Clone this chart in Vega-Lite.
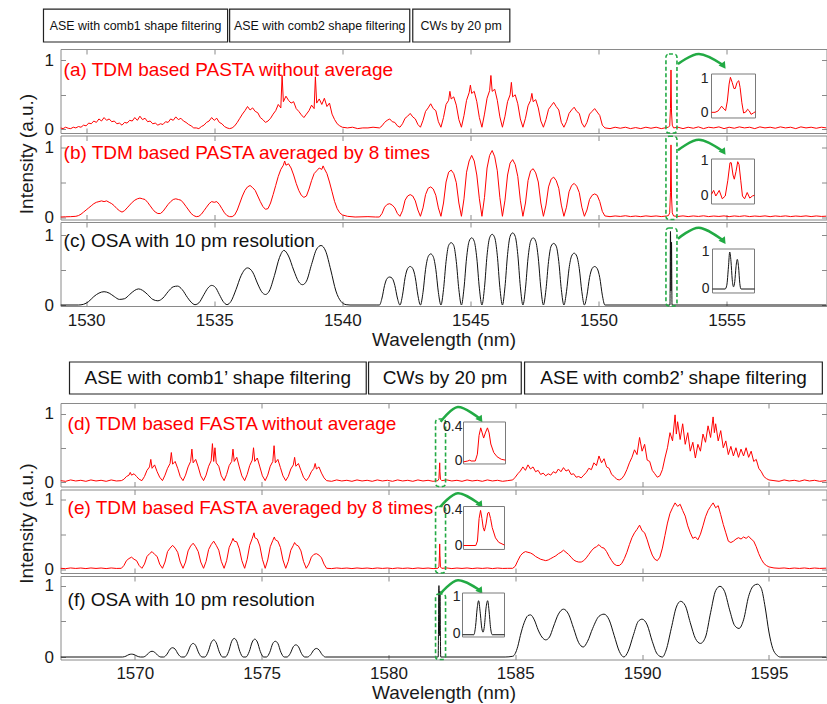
{
"$schema": "https://vega.github.io/schema/vega-lite/v6.json",
"background": "white",
"padding": {"left": 16.5, "top": 7, "right": 0, "bottom": 0},
"spacing": 10,
"config": {
  "font": "Liberation Sans",
  "view": {"stroke": "#8a8a8a", "strokeWidth": 1},
  "axis": {"domain": false, "grid": false, "tickColor": "#8a8a8a", "tickSize": -5, "labelFontSize": 17, "labelColor": "#1a1a1a", "titleFontSize": 19, "titleFontWeight": "normal", "titleColor": "#1a1a1a", "labelFont": "Liberation Sans", "titleFont": "Liberation Sans"},
  "axisX": {"labelPadding": 11, "titlePadding": 2},
  "axisY": {"labelPadding": 12, "titlePadding": 8}
},
"datasets": {
"a": [
{"x":1529,"y":0.02},{"x":1529.1,"y":0.01},{"x":1529.2,"y":0.03},{"x":1529.3,"y":0.015},{"x":1529.4,"y":0.01},{"x":1529.5,"y":0.03},{"x":1529.6,"y":0.02},{"x":1529.7,"y":0.04},{"x":1529.8,"y":0.03},{"x":1529.9,"y":0.06},
{"x":1530,"y":0.05},{"x":1530.1,"y":0.09},{"x":1530.2,"y":0.08},{"x":1530.3,"y":0.12},{"x":1530.4,"y":0.1},{"x":1530.5,"y":0.15},{"x":1530.6,"y":0.12},{"x":1530.7,"y":0.17},{"x":1530.8,"y":0.13},{"x":1530.9,"y":0.15},
{"x":1531,"y":0.11},{"x":1531.1,"y":0.12},{"x":1531.2,"y":0.08},{"x":1531.3,"y":0.09},{"x":1531.4,"y":0.06},{"x":1531.5,"y":0.1},{"x":1531.6,"y":0.09},{"x":1531.7,"y":0.13},{"x":1531.8,"y":0.12},{"x":1531.9,"y":0.17},
{"x":1532,"y":0.13},{"x":1532.1,"y":0.19},{"x":1532.2,"y":0.14},{"x":1532.3,"y":0.16},{"x":1532.4,"y":0.11},{"x":1532.5,"y":0.12},{"x":1532.6,"y":0.08},{"x":1532.7,"y":0.09},{"x":1532.8,"y":0.06},{"x":1532.9,"y":0.08},
{"x":1533,"y":0.07},{"x":1533.1,"y":0.11},{"x":1533.2,"y":0.1},{"x":1533.3,"y":0.15},{"x":1533.4,"y":0.13},{"x":1533.5,"y":0.18},{"x":1533.6,"y":0.14},{"x":1533.7,"y":0.16},{"x":1533.8,"y":0.12},{"x":1533.9,"y":0.1},
{"x":1534,"y":0.07},{"x":1534.1,"y":0.05},{"x":1534.2,"y":0.02},{"x":1534.3,"y":0.02},{"x":1534.4,"y":0.01},{"x":1534.5,"y":0.04},{"x":1534.6,"y":0.06},{"x":1534.7,"y":0.1},{"x":1534.8,"y":0.12},{"x":1534.9,"y":0.17},
{"x":1535,"y":0.13},{"x":1535.1,"y":0.16},{"x":1535.2,"y":0.1},{"x":1535.3,"y":0.08},{"x":1535.4,"y":0.04},{"x":1535.5,"y":0.02},{"x":1535.6,"y":0.01},{"x":1535.7,"y":0.02},{"x":1535.8,"y":0.05},{"x":1535.9,"y":0.1},
{"x":1536,"y":0.16},{"x":1536.1,"y":0.22},{"x":1536.2,"y":0.27},{"x":1536.3,"y":0.33},{"x":1536.4,"y":0.28},{"x":1536.5,"y":0.31},{"x":1536.6,"y":0.26},{"x":1536.7,"y":0.24},{"x":1536.8,"y":0.17},{"x":1536.9,"y":0.14},
{"x":1537,"y":0.1},{"x":1537.1,"y":0.12},{"x":1537.2,"y":0.16},{"x":1537.3,"y":0.22},{"x":1537.4,"y":0.27},{"x":1537.5,"y":0.36},{"x":1537.6,"y":0.31},{"x":1537.65,"y":0.78},{"x":1537.7,"y":0.4},{"x":1537.8,"y":0.48},{"x":1537.9,"y":0.42},
{"x":1538,"y":0.38},{"x":1538.1,"y":0.4},{"x":1538.2,"y":0.3},{"x":1538.3,"y":0.26},{"x":1538.4,"y":0.21},{"x":1538.5,"y":0.17},{"x":1538.6,"y":0.22},{"x":1538.7,"y":0.27},{"x":1538.8,"y":0.35},{"x":1538.9,"y":0.3},{"x":1538.95,"y":0.76},
{"x":1539,"y":0.38},{"x":1539.1,"y":0.44},{"x":1539.2,"y":0.36},{"x":1539.3,"y":0.45},{"x":1539.4,"y":0.33},{"x":1539.5,"y":0.38},{"x":1539.6,"y":0.22},{"x":1539.7,"y":0.14},{"x":1539.8,"y":0.08},{"x":1539.9,"y":0.05},
{"x":1540,"y":0.03},{"x":1540.2,"y":0.02},{"x":1540.4,"y":0.03},{"x":1540.6,"y":0.01},{"x":1540.8,"y":0.02},{"x":1541,"y":0.02},{"x":1541.2,"y":0.03},
{"x":1541.45,"y":0.02},{"x":1541.55,"y":0.05},{"x":1541.65,"y":0.1},{"x":1541.75,"y":0.13},{"x":1541.85,"y":0.15},{"x":1541.95,"y":0.11},{"x":1542.05,"y":0.1},{"x":1542.15,"y":0.05},
{"x":1542.25,"y":0.03},{"x":1542.35,"y":0.08},{"x":1542.45,"y":0.16},{"x":1542.55,"y":0.19},{"x":1542.65,"y":0.23},{"x":1542.75,"y":0.18},{"x":1542.85,"y":0.15},{"x":1542.95,"y":0.07},
{"x":1543.05,"y":0.03},{"x":1543.15,"y":0.13},{"x":1543.25,"y":0.26},{"x":1543.35,"y":0.31},{"x":1543.45,"y":0.37},{"x":1543.55,"y":0.3},{"x":1543.65,"y":0.27},{"x":1543.75,"y":0.11},
{"x":1543.85,"y":0.03},{"x":1543.95,"y":0.17},{"x":1544.05,"y":0.36},{"x":1544.15,"y":0.42},{"x":1544.2,"y":0.55},{"x":1544.25,"y":0.44},{"x":1544.35,"y":0.47},{"x":1544.45,"y":0.35},{"x":1544.55,"y":0.14},
{"x":1544.65,"y":0.03},{"x":1544.75,"y":0.2},{"x":1544.85,"y":0.42},{"x":1544.95,"y":0.53},{"x":1545,"y":0.64},{"x":1545.05,"y":0.52},{"x":1545.15,"y":0.55},{"x":1545.25,"y":0.4},{"x":1545.35,"y":0.17},
{"x":1545.45,"y":0.03},{"x":1545.55,"y":0.22},{"x":1545.65,"y":0.45},{"x":1545.75,"y":0.56},{"x":1545.8,"y":0.78},{"x":1545.85,"y":0.55},{"x":1545.95,"y":0.58},{"x":1546.05,"y":0.42},{"x":1546.15,"y":0.18},
{"x":1546.25,"y":0.03},{"x":1546.35,"y":0.19},{"x":1546.45,"y":0.4},{"x":1546.55,"y":0.5},{"x":1546.6,"y":0.68},{"x":1546.65,"y":0.47},{"x":1546.75,"y":0.5},{"x":1546.85,"y":0.37},{"x":1546.95,"y":0.15},
{"x":1547.05,"y":0.03},{"x":1547.15,"y":0.16},{"x":1547.25,"y":0.34},{"x":1547.35,"y":0.42},{"x":1547.4,"y":0.52},{"x":1547.45,"y":0.4},{"x":1547.55,"y":0.43},{"x":1547.65,"y":0.31},{"x":1547.75,"y":0.12},
{"x":1547.85,"y":0.03},{"x":1547.95,"y":0.14},{"x":1548.05,"y":0.29},{"x":1548.15,"y":0.34},{"x":1548.25,"y":0.39},{"x":1548.35,"y":0.33},{"x":1548.45,"y":0.28},{"x":1548.55,"y":0.1},
{"x":1548.65,"y":0.03},{"x":1548.75,"y":0.11},{"x":1548.85,"y":0.23},{"x":1548.95,"y":0.28},{"x":1549.05,"y":0.32},{"x":1549.15,"y":0.26},{"x":1549.25,"y":0.23},{"x":1549.35,"y":0.09},
{"x":1549.45,"y":0.03},{"x":1549.55,"y":0.1},{"x":1549.65,"y":0.22},{"x":1549.75,"y":0.26},{"x":1549.85,"y":0.3},{"x":1549.95,"y":0.25},{"x":1550.05,"y":0.2},{"x":1550.15,"y":0.06},
{"x":1550.25,"y":0.02},{"x":1550.45,"y":0.01},{"x":1550.65,"y":0.03},{"x":1550.85,"y":0.015},{"x":1551.05,"y":0.03},{"x":1551.25,"y":0.01},{"x":1551.45,"y":0.025},{"x":1551.65,"y":0.01},{"x":1551.85,"y":0.03},{"x":1552.05,"y":0.015},{"x":1552.25,"y":0.03},{"x":1552.45,"y":0.01},{"x":1552.65,"y":0.025},
{"x":1552.73,"y":0.03},{"x":1552.78,"y":0.05},{"x":1552.81,"y":0.3},{"x":1552.83,"y":0.86},{"x":1552.85,"y":0.25},{"x":1552.88,"y":0.06},{"x":1552.93,"y":0.02},
{"x":1553.1,"y":0.03},{"x":1553.3,"y":0.01},{"x":1553.5,"y":0.03},{"x":1553.7,"y":0.015},{"x":1553.9,"y":0.035},{"x":1554.1,"y":0.01},{"x":1554.3,"y":0.03},{"x":1554.5,"y":0.02},{"x":1554.7,"y":0.035},{"x":1554.9,"y":0.01},{"x":1555.1,"y":0.03},{"x":1555.3,"y":0.015},{"x":1555.5,"y":0.035},{"x":1555.7,"y":0.02},{"x":1555.9,"y":0.03},{"x":1556.1,"y":0.01},{"x":1556.3,"y":0.035},{"x":1556.5,"y":0.02},{"x":1556.7,"y":0.03},{"x":1556.9,"y":0.015},{"x":1557.1,"y":0.035},{"x":1557.3,"y":0.02},{"x":1557.5,"y":0.03},{"x":1557.7,"y":0.01},{"x":1557.9,"y":0.035},{"x":1558.1,"y":0.02},{"x":1558.3,"y":0.03},{"x":1558.5,"y":0.015},{"x":1558.7,"y":0.03},{"x":1558.9,"y":0.02}
],
"b": [
{"x":1529,"y":0},{"x":1529.2,"y":0.003},{"x":1529.4,"y":0.005},{"x":1529.6,"y":0.01},{"x":1529.7,"y":0.02},{"x":1529.8,"y":0.04},{"x":1529.9,"y":0.07},
{"x":1530,"y":0.1},{"x":1530.1,"y":0.13},{"x":1530.2,"y":0.16},{"x":1530.3,"y":0.19},{"x":1530.4,"y":0.21},{"x":1530.5,"y":0.22},{"x":1530.6,"y":0.23},{"x":1530.7,"y":0.22},{"x":1530.8,"y":0.23},{"x":1530.9,"y":0.21},
{"x":1531,"y":0.19},{"x":1531.1,"y":0.16},{"x":1531.2,"y":0.12},{"x":1531.3,"y":0.09},{"x":1531.4,"y":0.07},{"x":1531.5,"y":0.09},{"x":1531.6,"y":0.13},{"x":1531.7,"y":0.17},{"x":1531.8,"y":0.21},{"x":1531.9,"y":0.24},
{"x":1532,"y":0.26},{"x":1532.1,"y":0.27},{"x":1532.2,"y":0.26},{"x":1532.3,"y":0.25},{"x":1532.4,"y":0.21},{"x":1532.5,"y":0.16},{"x":1532.6,"y":0.11},{"x":1532.7,"y":0.07},{"x":1532.8,"y":0.05},{"x":1532.9,"y":0.05},
{"x":1533,"y":0.08},{"x":1533.1,"y":0.13},{"x":1533.2,"y":0.18},{"x":1533.3,"y":0.22},{"x":1533.4,"y":0.25},{"x":1533.5,"y":0.26},{"x":1533.6,"y":0.25},{"x":1533.7,"y":0.24},{"x":1533.8,"y":0.2},{"x":1533.9,"y":0.15},
{"x":1534,"y":0.1},{"x":1534.1,"y":0.05},{"x":1534.2,"y":0.02},{"x":1534.3,"y":0.005},{"x":1534.4,"y":0.01},{"x":1534.5,"y":0.04},{"x":1534.6,"y":0.09},{"x":1534.7,"y":0.14},{"x":1534.8,"y":0.19},{"x":1534.9,"y":0.22},
{"x":1535,"y":0.21},{"x":1535.1,"y":0.22},{"x":1535.2,"y":0.18},{"x":1535.3,"y":0.12},{"x":1535.4,"y":0.06},{"x":1535.5,"y":0.02},{"x":1535.6,"y":0.005},{"x":1535.7,"y":0.005},{"x":1535.8,"y":0.03},{"x":1535.9,"y":0.1},
{"x":1536,"y":0.2},{"x":1536.1,"y":0.3},{"x":1536.2,"y":0.38},{"x":1536.3,"y":0.43},{"x":1536.4,"y":0.45},{"x":1536.5,"y":0.42},{"x":1536.6,"y":0.38},{"x":1536.7,"y":0.3},{"x":1536.8,"y":0.22},{"x":1536.9,"y":0.15},
{"x":1537,"y":0.11},{"x":1537.1,"y":0.12},{"x":1537.2,"y":0.2},{"x":1537.3,"y":0.32},{"x":1537.4,"y":0.45},{"x":1537.5,"y":0.58},{"x":1537.6,"y":0.68},{"x":1537.7,"y":0.74},{"x":1537.75,"y":0.8},{"x":1537.8,"y":0.74},{"x":1537.9,"y":0.76},
{"x":1538,"y":0.7},{"x":1538.1,"y":0.6},{"x":1538.2,"y":0.48},{"x":1538.3,"y":0.38},{"x":1538.4,"y":0.31},{"x":1538.5,"y":0.28},{"x":1538.6,"y":0.3},{"x":1538.7,"y":0.4},{"x":1538.8,"y":0.52},{"x":1538.9,"y":0.62},
{"x":1539,"y":0.66},{"x":1539.1,"y":0.7},{"x":1539.2,"y":0.68},{"x":1539.25,"y":0.73},{"x":1539.3,"y":0.69},{"x":1539.4,"y":0.62},{"x":1539.5,"y":0.5},{"x":1539.6,"y":0.36},{"x":1539.7,"y":0.22},{"x":1539.8,"y":0.12},{"x":1539.9,"y":0.06},
{"x":1540,"y":0.03},{"x":1540.2,"y":0.01},{"x":1540.5,"y":0},{"x":1541,"y":0.005},{"x":1541.3,"y":0},
{"x":1541.45,"y":0},{"x":1541.55,"y":0.05},{"x":1541.65,"y":0.14},{"x":1541.75,"y":0.18},{"x":1541.85,"y":0.19},{"x":1541.95,"y":0.17},{"x":1542.05,"y":0.13},{"x":1542.15,"y":0.05},
{"x":1542.25,"y":0.01},{"x":1542.35,"y":0.09},{"x":1542.45,"y":0.24},{"x":1542.55,"y":0.3},{"x":1542.65,"y":0.32},{"x":1542.75,"y":0.3},{"x":1542.85,"y":0.23},{"x":1542.95,"y":0.1},
{"x":1543.05,"y":0.01},{"x":1543.15,"y":0.13},{"x":1543.25,"y":0.32},{"x":1543.35,"y":0.41},{"x":1543.45,"y":0.43},{"x":1543.55,"y":0.4},{"x":1543.65,"y":0.31},{"x":1543.75,"y":0.13},
{"x":1543.85,"y":0.01},{"x":1543.95,"y":0.2},{"x":1544.05,"y":0.5},{"x":1544.15,"y":0.64},{"x":1544.25,"y":0.67},{"x":1544.35,"y":0.62},{"x":1544.45,"y":0.49},{"x":1544.55,"y":0.2},
{"x":1544.65,"y":0.01},{"x":1544.75,"y":0.26},{"x":1544.85,"y":0.64},{"x":1544.95,"y":0.8},{"x":1545.05,"y":0.88},{"x":1545.15,"y":0.8},{"x":1545.25,"y":0.6},{"x":1545.35,"y":0.26},
{"x":1545.45,"y":0.01},{"x":1545.55,"y":0.28},{"x":1545.65,"y":0.7},{"x":1545.75,"y":0.88},{"x":1545.85,"y":0.95},{"x":1545.95,"y":0.86},{"x":1546.05,"y":0.66},{"x":1546.15,"y":0.28},
{"x":1546.25,"y":0.01},{"x":1546.35,"y":0.24},{"x":1546.45,"y":0.6},{"x":1546.55,"y":0.77},{"x":1546.65,"y":0.82},{"x":1546.75,"y":0.75},{"x":1546.85,"y":0.58},{"x":1546.95,"y":0.24},
{"x":1547.05,"y":0.01},{"x":1547.15,"y":0.2},{"x":1547.25,"y":0.52},{"x":1547.35,"y":0.66},{"x":1547.45,"y":0.69},{"x":1547.55,"y":0.63},{"x":1547.65,"y":0.5},{"x":1547.75,"y":0.2},
{"x":1547.85,"y":0.01},{"x":1547.95,"y":0.17},{"x":1548.05,"y":0.43},{"x":1548.15,"y":0.54},{"x":1548.25,"y":0.57},{"x":1548.35,"y":0.52},{"x":1548.45,"y":0.41},{"x":1548.55,"y":0.17},
{"x":1548.65,"y":0.01},{"x":1548.75,"y":0.14},{"x":1548.85,"y":0.36},{"x":1548.95,"y":0.45},{"x":1549.05,"y":0.48},{"x":1549.15,"y":0.44},{"x":1549.25,"y":0.35},{"x":1549.35,"y":0.14},
{"x":1549.45,"y":0.01},{"x":1549.55,"y":0.1},{"x":1549.65,"y":0.25},{"x":1549.75,"y":0.31},{"x":1549.85,"y":0.33},{"x":1549.95,"y":0.31},{"x":1550.05,"y":0.22},{"x":1550.15,"y":0.08},
{"x":1550.25,"y":0.015},{"x":1550.45,"y":0.005},{"x":1550.65,"y":0.015},{"x":1550.85,"y":0.008},{"x":1551.05,"y":0.018},{"x":1551.25,"y":0.006},{"x":1551.45,"y":0.014},{"x":1551.65,"y":0.005},{"x":1551.85,"y":0.016},{"x":1552.05,"y":0.008},{"x":1552.25,"y":0.015},{"x":1552.45,"y":0.006},{"x":1552.65,"y":0.014},
{"x":1552.73,"y":0.02},{"x":1552.78,"y":0.06},{"x":1552.81,"y":0.35},{"x":1552.83,"y":1.03},{"x":1552.85,"y":0.3},{"x":1552.88,"y":0.06},{"x":1552.93,"y":0.015},
{"x":1553.1,"y":0.008},{"x":1553.3,"y":0.016},{"x":1553.5,"y":0.006},{"x":1553.7,"y":0.015},{"x":1553.9,"y":0.008},{"x":1554.1,"y":0.017},{"x":1554.3,"y":0.006},{"x":1554.5,"y":0.014},{"x":1554.7,"y":0.008},{"x":1554.9,"y":0.016},{"x":1555.1,"y":0.005},{"x":1555.3,"y":0.015},{"x":1555.5,"y":0.008},{"x":1555.7,"y":0.017},{"x":1555.9,"y":0.006},{"x":1556.1,"y":0.014},{"x":1556.3,"y":0.008},{"x":1556.5,"y":0.016},{"x":1556.7,"y":0.005},{"x":1556.9,"y":0.015},{"x":1557.1,"y":0.008},{"x":1557.3,"y":0.016},{"x":1557.5,"y":0.006},{"x":1557.7,"y":0.014},{"x":1557.9,"y":0.008},{"x":1558.1,"y":0.016},{"x":1558.3,"y":0.006},{"x":1558.5,"y":0.015},{"x":1558.7,"y":0.008},{"x":1558.9,"y":0.012}
],
"c": [
{"x":1529,"y":0},{"x":1529.7,"y":0},{"x":1529.9,"y":0.01},{"x":1530.1,"y":0.05},{"x":1530.3,"y":0.12},{"x":1530.5,"y":0.17},{"x":1530.7,"y":0.19},{"x":1530.9,"y":0.17},{"x":1531.1,"y":0.12},{"x":1531.3,"y":0.08},{"x":1531.5,"y":0.09},{"x":1531.7,"y":0.15},{"x":1531.9,"y":0.21},{"x":1532.05,"y":0.23},{"x":1532.2,"y":0.21},{"x":1532.4,"y":0.15},{"x":1532.6,"y":0.08},{"x":1532.8,"y":0.06},{"x":1533,"y":0.1},{"x":1533.2,"y":0.19},{"x":1533.4,"y":0.26},{"x":1533.57,"y":0.27},{"x":1533.75,"y":0.22},{"x":1533.95,"y":0.11},{"x":1534.1,"y":0.04},{"x":1534.25,"y":0.005},{"x":1534.4,"y":0.03},{"x":1534.6,"y":0.15},{"x":1534.75,"y":0.24},{"x":1534.9,"y":0.28},{"x":1535.05,"y":0.25},{"x":1535.2,"y":0.15},{"x":1535.35,"y":0.05},{"x":1535.5,"y":0.005},{"x":1535.65,"y":0.05},{"x":1535.85,"y":0.22},{"x":1536.05,"y":0.42},{"x":1536.3,"y":0.53},{"x":1536.5,"y":0.47},{"x":1536.7,"y":0.3},{"x":1536.85,"y":0.19},{"x":1537,"y":0.15},{"x":1537.15,"y":0.2},{"x":1537.35,"y":0.42},{"x":1537.55,"y":0.68},{"x":1537.72,"y":0.78},{"x":1537.9,"y":0.7},{"x":1538.1,"y":0.5},{"x":1538.3,"y":0.33},{"x":1538.45,"y":0.29},{"x":1538.6,"y":0.34},{"x":1538.8,"y":0.58},{"x":1539,"y":0.8},{"x":1539.17,"y":0.85},{"x":1539.35,"y":0.77},{"x":1539.55,"y":0.5},{"x":1539.75,"y":0.2},{"x":1539.95,"y":0.05},{"x":1540.15,"y":0.005},{"x":1540.3,"y":0},{"x":1541.35,"y":0},
{"x":1541.45,"y":0},{"x":1541.55,"y":0.1},{"x":1541.65,"y":0.28},{"x":1541.75,"y":0.38},{"x":1541.85,"y":0.4},{"x":1541.95,"y":0.38},{"x":1542.05,"y":0.28},{"x":1542.15,"y":0.1},
{"x":1542.25,"y":0},{"x":1542.35,"y":0.14},{"x":1542.45,"y":0.39},{"x":1542.55,"y":0.52},{"x":1542.65,"y":0.55},{"x":1542.75,"y":0.52},{"x":1542.85,"y":0.39},{"x":1542.95,"y":0.14},
{"x":1543.05,"y":0},{"x":1543.15,"y":0.18},{"x":1543.25,"y":0.51},{"x":1543.35,"y":0.69},{"x":1543.45,"y":0.73},{"x":1543.55,"y":0.69},{"x":1543.65,"y":0.51},{"x":1543.75,"y":0.18},
{"x":1543.85,"y":0},{"x":1543.95,"y":0.22},{"x":1544.05,"y":0.62},{"x":1544.15,"y":0.85},{"x":1544.25,"y":0.89},{"x":1544.35,"y":0.85},{"x":1544.45,"y":0.62},{"x":1544.55,"y":0.22},
{"x":1544.65,"y":0},{"x":1544.75,"y":0.24},{"x":1544.85,"y":0.67},{"x":1544.95,"y":0.91},{"x":1545.05,"y":0.96},{"x":1545.15,"y":0.91},{"x":1545.25,"y":0.67},{"x":1545.35,"y":0.24},
{"x":1545.45,"y":0},{"x":1545.55,"y":0.25},{"x":1545.65,"y":0.71},{"x":1545.75,"y":0.96},{"x":1545.85,"y":1.01},{"x":1545.95,"y":0.96},{"x":1546.05,"y":0.71},{"x":1546.15,"y":0.25},
{"x":1546.25,"y":0},{"x":1546.35,"y":0.26},{"x":1546.45,"y":0.72},{"x":1546.55,"y":0.98},{"x":1546.65,"y":1.03},{"x":1546.75,"y":0.98},{"x":1546.85,"y":0.72},{"x":1546.95,"y":0.26},
{"x":1547.05,"y":0},{"x":1547.15,"y":0.24},{"x":1547.25,"y":0.67},{"x":1547.35,"y":0.91},{"x":1547.45,"y":0.96},{"x":1547.55,"y":0.91},{"x":1547.65,"y":0.67},{"x":1547.75,"y":0.24},
{"x":1547.85,"y":0},{"x":1547.95,"y":0.22},{"x":1548.05,"y":0.62},{"x":1548.15,"y":0.84},{"x":1548.25,"y":0.88},{"x":1548.35,"y":0.84},{"x":1548.45,"y":0.62},{"x":1548.55,"y":0.22},
{"x":1548.65,"y":0},{"x":1548.75,"y":0.19},{"x":1548.85,"y":0.52},{"x":1548.95,"y":0.7},{"x":1549.05,"y":0.74},{"x":1549.15,"y":0.7},{"x":1549.25,"y":0.52},{"x":1549.35,"y":0.19},
{"x":1549.45,"y":0},{"x":1549.55,"y":0.14},{"x":1549.65,"y":0.39},{"x":1549.75,"y":0.52},{"x":1549.85,"y":0.55},{"x":1549.95,"y":0.52},{"x":1550.05,"y":0.39},{"x":1550.15,"y":0.14},
{"x":1550.25,"y":0},{"x":1552.79,"y":0},{"x":1552.81,"y":1.05},{"x":1552.83,"y":0.2},{"x":1552.85,"y":0.9},{"x":1552.87,"y":0},{"x":1558.9,"y":0}
],
"d": [
{"x":1567.07,"y":0.02},{"x":1567.27,"y":0.01},{"x":1567.47,"y":0.03},{"x":1567.67,"y":0.015},{"x":1567.87,"y":0.025},{"x":1568.07,"y":0.01},{"x":1568.27,"y":0.03},{"x":1568.47,"y":0.015},{"x":1568.67,"y":0.025},{"x":1568.87,"y":0.01},{"x":1569.07,"y":0.03},{"x":1569.27,"y":0.015},
{"x":1569.47,"y":0.02},{"x":1569.57,"y":0.04},{"x":1569.67,"y":0.08},{"x":1569.77,"y":0.1},{"x":1569.82,"y":0.14},{"x":1569.87,"y":0.1},{"x":1569.97,"y":0.12},{"x":1570.07,"y":0.08},{"x":1570.17,"y":0.04},
{"x":1570.28,"y":0.02},{"x":1570.38,"y":0.08},{"x":1570.48,"y":0.17},{"x":1570.58,"y":0.22},{"x":1570.63,"y":0.33},{"x":1570.68,"y":0.2},{"x":1570.78,"y":0.25},{"x":1570.88,"y":0.15},{"x":1570.98,"y":0.07},
{"x":1571.09,"y":0.02},{"x":1571.19,"y":0.1},{"x":1571.29,"y":0.2},{"x":1571.39,"y":0.27},{"x":1571.44,"y":0.43},{"x":1571.49,"y":0.26},{"x":1571.59,"y":0.3},{"x":1571.69,"y":0.2},{"x":1571.79,"y":0.08},
{"x":1571.9,"y":0.02},{"x":1572,"y":0.1},{"x":1572.1,"y":0.22},{"x":1572.2,"y":0.3},{"x":1572.25,"y":0.48},{"x":1572.3,"y":0.28},{"x":1572.4,"y":0.33},{"x":1572.5,"y":0.22},{"x":1572.6,"y":0.09},
{"x":1572.71,"y":0.02},{"x":1572.81,"y":0.1},{"x":1572.91,"y":0.23},{"x":1573.01,"y":0.31},{"x":1573.06,"y":0.56},{"x":1573.11,"y":0.3},{"x":1573.16,"y":0.5},{"x":1573.21,"y":0.28},{"x":1573.31,"y":0.23},{"x":1573.41,"y":0.09},
{"x":1573.52,"y":0.02},{"x":1573.62,"y":0.11},{"x":1573.72,"y":0.24},{"x":1573.82,"y":0.3},{"x":1573.87,"y":0.48},{"x":1573.92,"y":0.3},{"x":1574.02,"y":0.36},{"x":1574.12,"y":0.22},{"x":1574.22,"y":0.09},
{"x":1574.33,"y":0.02},{"x":1574.43,"y":0.11},{"x":1574.53,"y":0.24},{"x":1574.63,"y":0.32},{"x":1574.68,"y":0.5},{"x":1574.73,"y":0.3},{"x":1574.83,"y":0.35},{"x":1574.93,"y":0.22},{"x":1575.03,"y":0.09},
{"x":1575.14,"y":0.02},{"x":1575.24,"y":0.1},{"x":1575.34,"y":0.23},{"x":1575.44,"y":0.3},{"x":1575.49,"y":0.53},{"x":1575.54,"y":0.28},{"x":1575.64,"y":0.33},{"x":1575.74,"y":0.21},{"x":1575.84,"y":0.09},
{"x":1575.95,"y":0.02},{"x":1576.05,"y":0.08},{"x":1576.15,"y":0.19},{"x":1576.25,"y":0.25},{"x":1576.3,"y":0.36},{"x":1576.35,"y":0.23},{"x":1576.45,"y":0.27},{"x":1576.55,"y":0.17},{"x":1576.65,"y":0.07},
{"x":1576.76,"y":0.02},{"x":1576.86,"y":0.07},{"x":1576.96,"y":0.15},{"x":1577.06,"y":0.2},{"x":1577.11,"y":0.27},{"x":1577.16,"y":0.19},{"x":1577.26,"y":0.22},{"x":1577.36,"y":0.13},{"x":1577.46,"y":0.06},
{"x":1577.56,"y":0.02},{"x":1577.76,"y":0.01},{"x":1577.96,"y":0.03},{"x":1578.16,"y":0.015},{"x":1578.36,"y":0.025},{"x":1578.56,"y":0.01},{"x":1578.76,"y":0.03},{"x":1578.96,"y":0.015},{"x":1579.16,"y":0.025},{"x":1579.36,"y":0.01},{"x":1579.56,"y":0.03},{"x":1579.76,"y":0.015},{"x":1579.96,"y":0.025},{"x":1580.16,"y":0.01},{"x":1580.36,"y":0.03},{"x":1580.56,"y":0.015},{"x":1580.76,"y":0.025},{"x":1580.96,"y":0.01},{"x":1581.16,"y":0.03},{"x":1581.36,"y":0.015},{"x":1581.56,"y":0.025},{"x":1581.76,"y":0.01},
{"x":1581.95,"y":0.02},{"x":1581.99,"y":0.05},{"x":1582.01,"y":0.2},{"x":1582.02,"y":0.28},{"x":1582.03,"y":0.15},{"x":1582.05,"y":0.04},{"x":1582.1,"y":0.02},
{"x":1582.3,"y":0.03},{"x":1582.5,"y":0.015},{"x":1582.7,"y":0.025},{"x":1582.9,"y":0.01},{"x":1583.1,"y":0.03},{"x":1583.3,"y":0.015},{"x":1583.5,"y":0.025},{"x":1583.7,"y":0.01},{"x":1583.9,"y":0.03},{"x":1584.1,"y":0.015},{"x":1584.3,"y":0.025},{"x":1584.5,"y":0.01},{"x":1584.7,"y":0.02},
{"x":1584.9,"y":0.03},{"x":1585,"y":0.07},{"x":1585.1,"y":0.12},{"x":1585.2,"y":0.16},{"x":1585.3,"y":0.22},{"x":1585.4,"y":0.17},{"x":1585.5,"y":0.25},{"x":1585.6,"y":0.19},{"x":1585.7,"y":0.22},{"x":1585.8,"y":0.15},{"x":1585.9,"y":0.17},
{"x":1586,"y":0.11},{"x":1586.1,"y":0.13},{"x":1586.2,"y":0.09},{"x":1586.3,"y":0.12},{"x":1586.4,"y":0.1},{"x":1586.5,"y":0.15},{"x":1586.6,"y":0.13},{"x":1586.7,"y":0.19},{"x":1586.8,"y":0.15},{"x":1586.9,"y":0.21},
{"x":1587,"y":0.16},{"x":1587.1,"y":0.18},{"x":1587.2,"y":0.11},{"x":1587.3,"y":0.12},{"x":1587.4,"y":0.07},{"x":1587.5,"y":0.08},{"x":1587.6,"y":0.06},{"x":1587.7,"y":0.1},{"x":1587.8,"y":0.14},{"x":1587.9,"y":0.2},
{"x":1588,"y":0.18},{"x":1588.1,"y":0.28},{"x":1588.2,"y":0.24},{"x":1588.3,"y":0.38},{"x":1588.4,"y":0.28},{"x":1588.5,"y":0.34},{"x":1588.6,"y":0.22},{"x":1588.7,"y":0.2},{"x":1588.8,"y":0.11},{"x":1588.9,"y":0.08},
{"x":1589,"y":0.04},{"x":1589.1,"y":0.03},{"x":1589.2,"y":0.05},{"x":1589.3,"y":0.1},{"x":1589.4,"y":0.18},{"x":1589.5,"y":0.28},{"x":1589.6,"y":0.36},{"x":1589.7,"y":0.47},{"x":1589.8,"y":0.4},{"x":1589.9,"y":0.65},
{"x":1590,"y":0.45},{"x":1590.1,"y":0.55},{"x":1590.2,"y":0.32},{"x":1590.3,"y":0.3},{"x":1590.4,"y":0.17},{"x":1590.5,"y":0.12},{"x":1590.6,"y":0.07},{"x":1590.7,"y":0.09},{"x":1590.8,"y":0.18},{"x":1590.9,"y":0.35},
{"x":1591,"y":0.5},{"x":1591.1,"y":0.72},{"x":1591.2,"y":0.6},{"x":1591.3,"y":0.98},{"x":1591.35,"y":0.7},{"x":1591.4,"y":0.88},{"x":1591.5,"y":0.62},{"x":1591.6,"y":0.85},{"x":1591.7,"y":0.55},{"x":1591.8,"y":0.72},{"x":1591.9,"y":0.45},
{"x":1592,"y":0.58},{"x":1592.1,"y":0.35},{"x":1592.2,"y":0.55},{"x":1592.3,"y":0.45},{"x":1592.4,"y":0.7},{"x":1592.5,"y":0.58},{"x":1592.6,"y":0.82},{"x":1592.7,"y":0.65},{"x":1592.8,"y":0.95},{"x":1592.85,"y":0.72},{"x":1592.9,"y":0.85},
{"x":1593,"y":0.6},{"x":1593.1,"y":0.75},{"x":1593.2,"y":0.5},{"x":1593.3,"y":0.6},{"x":1593.4,"y":0.4},{"x":1593.5,"y":0.52},{"x":1593.6,"y":0.38},{"x":1593.7,"y":0.5},{"x":1593.8,"y":0.36},{"x":1593.9,"y":0.48},
{"x":1594,"y":0.38},{"x":1594.1,"y":0.5},{"x":1594.2,"y":0.36},{"x":1594.3,"y":0.45},{"x":1594.4,"y":0.3},{"x":1594.5,"y":0.33},{"x":1594.6,"y":0.2},{"x":1594.7,"y":0.15},{"x":1594.8,"y":0.08},{"x":1594.9,"y":0.05},
{"x":1595,"y":0.03},{"x":1595.2,"y":0.02},{"x":1595.4,"y":0.01},{"x":1595.6,"y":0.03},{"x":1595.8,"y":0.015},{"x":1596,"y":0.025},{"x":1596.2,"y":0.01},{"x":1596.4,"y":0.03},{"x":1596.6,"y":0.015},{"x":1596.8,"y":0.025},{"x":1597,"y":0.01},{"x":1597.27,"y":0.02}
],
"e": [
{"x":1567.07,"y":0.01},{"x":1567.27,"y":0.005},{"x":1567.47,"y":0.015},{"x":1567.67,"y":0.008},{"x":1567.87,"y":0.014},{"x":1568.07,"y":0.006},{"x":1568.27,"y":0.015},{"x":1568.47,"y":0.008},{"x":1568.67,"y":0.014},{"x":1568.87,"y":0.006},{"x":1569.07,"y":0.015},{"x":1569.27,"y":0.008},
{"x":1569.47,"y":0.01},{"x":1569.57,"y":0.05},{"x":1569.67,"y":0.12},{"x":1569.77,"y":0.15},{"x":1569.87,"y":0.17},{"x":1569.97,"y":0.14},{"x":1570.07,"y":0.12},{"x":1570.17,"y":0.05},
{"x":1570.28,"y":0.01},{"x":1570.38,"y":0.07},{"x":1570.48,"y":0.18},{"x":1570.58,"y":0.22},{"x":1570.68,"y":0.25},{"x":1570.78,"y":0.21},{"x":1570.88,"y":0.18},{"x":1570.98,"y":0.07},
{"x":1571.09,"y":0.01},{"x":1571.19,"y":0.1},{"x":1571.29,"y":0.25},{"x":1571.39,"y":0.3},{"x":1571.49,"y":0.34},{"x":1571.59,"y":0.3},{"x":1571.69,"y":0.24},{"x":1571.79,"y":0.1},
{"x":1571.9,"y":0.01},{"x":1572,"y":0.1},{"x":1572.1,"y":0.26},{"x":1572.2,"y":0.33},{"x":1572.3,"y":0.37},{"x":1572.4,"y":0.32},{"x":1572.5,"y":0.25},{"x":1572.6,"y":0.1},
{"x":1572.71,"y":0.01},{"x":1572.81,"y":0.11},{"x":1572.91,"y":0.28},{"x":1573.01,"y":0.35},{"x":1573.11,"y":0.4},{"x":1573.21,"y":0.34},{"x":1573.31,"y":0.27},{"x":1573.41,"y":0.11},
{"x":1573.52,"y":0.01},{"x":1573.62,"y":0.12},{"x":1573.72,"y":0.31},{"x":1573.82,"y":0.39},{"x":1573.87,"y":0.44},{"x":1573.92,"y":0.4},{"x":1574.02,"y":0.39},{"x":1574.12,"y":0.29},{"x":1574.22,"y":0.12},
{"x":1574.33,"y":0.01},{"x":1574.43,"y":0.14},{"x":1574.53,"y":0.34},{"x":1574.63,"y":0.44},{"x":1574.7,"y":0.52},{"x":1574.73,"y":0.45},{"x":1574.83,"y":0.43},{"x":1574.93,"y":0.33},{"x":1575.03,"y":0.14},
{"x":1575.14,"y":0.01},{"x":1575.24,"y":0.13},{"x":1575.34,"y":0.32},{"x":1575.44,"y":0.41},{"x":1575.5,"y":0.46},{"x":1575.54,"y":0.42},{"x":1575.64,"y":0.4},{"x":1575.74,"y":0.31},{"x":1575.84,"y":0.13},
{"x":1575.95,"y":0.01},{"x":1576.05,"y":0.11},{"x":1576.15,"y":0.27},{"x":1576.25,"y":0.34},{"x":1576.3,"y":0.38},{"x":1576.35,"y":0.35},{"x":1576.45,"y":0.33},{"x":1576.55,"y":0.26},{"x":1576.65,"y":0.11},
{"x":1576.76,"y":0.01},{"x":1576.86,"y":0.07},{"x":1576.96,"y":0.17},{"x":1577.06,"y":0.21},{"x":1577.16,"y":0.22},{"x":1577.26,"y":0.2},{"x":1577.36,"y":0.16},{"x":1577.46,"y":0.07},
{"x":1577.56,"y":0.01},{"x":1577.76,"y":0.006},{"x":1577.96,"y":0.015},{"x":1578.16,"y":0.008},{"x":1578.36,"y":0.014},{"x":1578.56,"y":0.006},{"x":1578.76,"y":0.015},{"x":1578.96,"y":0.008},{"x":1579.16,"y":0.014},{"x":1579.36,"y":0.006},{"x":1579.56,"y":0.015},{"x":1579.76,"y":0.008},{"x":1579.96,"y":0.014},{"x":1580.16,"y":0.006},{"x":1580.36,"y":0.015},{"x":1580.56,"y":0.008},{"x":1580.76,"y":0.014},{"x":1580.96,"y":0.006},{"x":1581.16,"y":0.015},{"x":1581.36,"y":0.008},{"x":1581.56,"y":0.014},{"x":1581.76,"y":0.006},
{"x":1581.95,"y":0.01},{"x":1581.99,"y":0.03},{"x":1582.01,"y":0.2},{"x":1582.02,"y":0.36},{"x":1582.03,"y":0.2},{"x":1582.05,"y":0.03},{"x":1582.1,"y":0.01},
{"x":1582.3,"y":0.015},{"x":1582.5,"y":0.006},{"x":1582.7,"y":0.014},{"x":1582.9,"y":0.008},{"x":1583.1,"y":0.015},{"x":1583.3,"y":0.006},{"x":1583.5,"y":0.014},{"x":1583.7,"y":0.008},{"x":1583.9,"y":0.015},{"x":1584.1,"y":0.006},{"x":1584.3,"y":0.014},{"x":1584.5,"y":0.008},{"x":1584.7,"y":0.01},
{"x":1584.9,"y":0.01},{"x":1585,"y":0.04},{"x":1585.1,"y":0.12},{"x":1585.2,"y":0.19},{"x":1585.3,"y":0.23},{"x":1585.4,"y":0.25},{"x":1585.5,"y":0.24},{"x":1585.6,"y":0.23},{"x":1585.7,"y":0.21},{"x":1585.8,"y":0.18},{"x":1585.9,"y":0.16},
{"x":1586,"y":0.14},{"x":1586.1,"y":0.13},{"x":1586.2,"y":0.12},{"x":1586.3,"y":0.13},{"x":1586.4,"y":0.15},{"x":1586.5,"y":0.17},{"x":1586.6,"y":0.19},{"x":1586.7,"y":0.22},{"x":1586.8,"y":0.24},{"x":1586.9,"y":0.27},
{"x":1587,"y":0.24},{"x":1587.1,"y":0.21},{"x":1587.2,"y":0.17},{"x":1587.3,"y":0.13},{"x":1587.4,"y":0.11},{"x":1587.5,"y":0.1},{"x":1587.6,"y":0.1},{"x":1587.7,"y":0.12},{"x":1587.8,"y":0.16},{"x":1587.9,"y":0.21},
{"x":1588,"y":0.26},{"x":1588.1,"y":0.3},{"x":1588.2,"y":0.32},{"x":1588.3,"y":0.35},{"x":1588.4,"y":0.31},{"x":1588.5,"y":0.3},{"x":1588.6,"y":0.25},{"x":1588.7,"y":0.18},{"x":1588.8,"y":0.12},{"x":1588.9,"y":0.07},
{"x":1589,"y":0.05},{"x":1589.1,"y":0.05},{"x":1589.2,"y":0.08},{"x":1589.3,"y":0.15},{"x":1589.4,"y":0.24},{"x":1589.5,"y":0.35},{"x":1589.6,"y":0.45},{"x":1589.7,"y":0.52},{"x":1589.8,"y":0.57},{"x":1589.9,"y":0.63},
{"x":1590,"y":0.55},{"x":1590.1,"y":0.52},{"x":1590.2,"y":0.42},{"x":1590.3,"y":0.3},{"x":1590.4,"y":0.2},{"x":1590.5,"y":0.14},{"x":1590.6,"y":0.12},{"x":1590.7,"y":0.17},{"x":1590.8,"y":0.3},{"x":1590.9,"y":0.48},
{"x":1591,"y":0.66},{"x":1591.1,"y":0.8},{"x":1591.2,"y":0.88},{"x":1591.3,"y":0.95},{"x":1591.4,"y":0.9},{"x":1591.5,"y":0.93},{"x":1591.6,"y":0.84},{"x":1591.7,"y":0.76},{"x":1591.8,"y":0.62},{"x":1591.9,"y":0.52},
{"x":1592,"y":0.44},{"x":1592.1,"y":0.46},{"x":1592.2,"y":0.42},{"x":1592.3,"y":0.5},{"x":1592.4,"y":0.62},{"x":1592.5,"y":0.75},{"x":1592.6,"y":0.84},{"x":1592.7,"y":0.9},{"x":1592.8,"y":0.95},{"x":1592.9,"y":0.88},
{"x":1593,"y":0.91},{"x":1593.1,"y":0.78},{"x":1593.2,"y":0.64},{"x":1593.3,"y":0.52},{"x":1593.4,"y":0.4},{"x":1593.5,"y":0.38},{"x":1593.6,"y":0.4},{"x":1593.7,"y":0.43},{"x":1593.8,"y":0.45},{"x":1593.9,"y":0.43},
{"x":1594,"y":0.46},{"x":1594.1,"y":0.44},{"x":1594.2,"y":0.47},{"x":1594.3,"y":0.43},{"x":1594.4,"y":0.4},{"x":1594.5,"y":0.32},{"x":1594.6,"y":0.22},{"x":1594.7,"y":0.14},{"x":1594.8,"y":0.08},{"x":1594.9,"y":0.05},
{"x":1595,"y":0.03},{"x":1595.2,"y":0.015},{"x":1595.4,"y":0.01},{"x":1595.6,"y":0.015},{"x":1595.8,"y":0.006},{"x":1596,"y":0.014},{"x":1596.2,"y":0.008},{"x":1596.4,"y":0.015},{"x":1596.6,"y":0.006},{"x":1596.8,"y":0.014},{"x":1597,"y":0.008},{"x":1597.27,"y":0.012}
],
"f": [
{"x":1567.07,"y":0},{"x":1569.52,"y":0},{"x":1569.65,"y":0.012},{"x":1569.77,"y":0.034},{"x":1569.87,"y":0.04},{"x":1569.97,"y":0.034},{"x":1570.09,"y":0.012},{"x":1570.22,"y":0},
{"x":1570.33,"y":0},{"x":1570.46,"y":0.024},{"x":1570.58,"y":0.068},{"x":1570.68,"y":0.08},{"x":1570.78,"y":0.068},{"x":1570.9,"y":0.024},{"x":1571.03,"y":0},
{"x":1571.14,"y":0},{"x":1571.27,"y":0.04},{"x":1571.39,"y":0.11},{"x":1571.49,"y":0.13},{"x":1571.59,"y":0.11},{"x":1571.71,"y":0.04},{"x":1571.84,"y":0},
{"x":1571.95,"y":0},{"x":1572.08,"y":0.057},{"x":1572.2,"y":0.16},{"x":1572.3,"y":0.19},{"x":1572.4,"y":0.16},{"x":1572.52,"y":0.057},{"x":1572.65,"y":0},
{"x":1572.76,"y":0},{"x":1572.89,"y":0.072},{"x":1573.01,"y":0.2},{"x":1573.11,"y":0.24},{"x":1573.21,"y":0.2},{"x":1573.33,"y":0.072},{"x":1573.46,"y":0},
{"x":1573.57,"y":0},{"x":1573.7,"y":0.078},{"x":1573.82,"y":0.22},{"x":1573.92,"y":0.26},{"x":1574.02,"y":0.22},{"x":1574.14,"y":0.078},{"x":1574.27,"y":0},
{"x":1574.38,"y":0},{"x":1574.51,"y":0.075},{"x":1574.63,"y":0.21},{"x":1574.73,"y":0.25},{"x":1574.83,"y":0.21},{"x":1574.95,"y":0.075},{"x":1575.08,"y":0},
{"x":1575.19,"y":0},{"x":1575.32,"y":0.066},{"x":1575.44,"y":0.19},{"x":1575.54,"y":0.22},{"x":1575.64,"y":0.19},{"x":1575.76,"y":0.066},{"x":1575.89,"y":0},
{"x":1576,"y":0},{"x":1576.13,"y":0.05},{"x":1576.25,"y":0.145},{"x":1576.35,"y":0.17},{"x":1576.45,"y":0.145},{"x":1576.57,"y":0.05},{"x":1576.7,"y":0},
{"x":1576.81,"y":0},{"x":1576.94,"y":0.036},{"x":1577.06,"y":0.1},{"x":1577.16,"y":0.12},{"x":1577.26,"y":0.1},{"x":1577.38,"y":0.036},{"x":1577.51,"y":0},
{"x":1581.96,"y":0},{"x":1581.99,"y":1.0},{"x":1582.01,"y":0.3},{"x":1582.03,"y":0.92},{"x":1582.06,"y":0},
{"x":1584.6,"y":0},{"x":1584.9,"y":0.01},{"x":1585,"y":0.05},{"x":1585.1,"y":0.15},{"x":1585.2,"y":0.3},{"x":1585.35,"y":0.48},{"x":1585.5,"y":0.58},{"x":1585.6,"y":0.59},{"x":1585.75,"y":0.52},{"x":1585.9,"y":0.38},{"x":1586.05,"y":0.28},{"x":1586.2,"y":0.24},{"x":1586.35,"y":0.28},{"x":1586.5,"y":0.42},{"x":1586.7,"y":0.6},{"x":1586.9,"y":0.67},{"x":1587.1,"y":0.6},{"x":1587.3,"y":0.4},{"x":1587.5,"y":0.2},{"x":1587.68,"y":0.14},{"x":1587.85,"y":0.22},{"x":1588.05,"y":0.4},{"x":1588.3,"y":0.57},{"x":1588.5,"y":0.6},{"x":1588.7,"y":0.52},{"x":1588.9,"y":0.3},{"x":1589.1,"y":0.08},{"x":1589.28,"y":0},{"x":1589.45,"y":0.08},{"x":1589.65,"y":0.3},{"x":1589.85,"y":0.5},{"x":1590,"y":0.53},{"x":1590.2,"y":0.45},{"x":1590.4,"y":0.22},{"x":1590.6,"y":0.04},{"x":1590.8,"y":0},{"x":1590.95,"y":0.1},{"x":1591.15,"y":0.4},{"x":1591.35,"y":0.7},{"x":1591.52,"y":0.78},{"x":1591.7,"y":0.72},{"x":1591.9,"y":0.48},{"x":1592.1,"y":0.26},{"x":1592.3,"y":0.19},{"x":1592.5,"y":0.28},{"x":1592.7,"y":0.62},{"x":1592.9,"y":0.93},{"x":1593.07,"y":0.99},{"x":1593.25,"y":0.92},{"x":1593.45,"y":0.66},{"x":1593.65,"y":0.44},{"x":1593.82,"y":0.4},{"x":1594,"y":0.52},{"x":1594.2,"y":0.85},{"x":1594.4,"y":1.0},{"x":1594.55,"y":1.02},{"x":1594.7,"y":0.96},{"x":1594.85,"y":0.7},{"x":1595,"y":0.35},{"x":1595.15,"y":0.12},{"x":1595.3,"y":0.03},{"x":1595.45,"y":0},{"x":1597.27,"y":0}
],
"ia": [{"x":0,"y":0.02},{"x":8,"y":0.02},{"x":15,"y":0.06},{"x":23,"y":0.2},{"x":28,"y":0.12},{"x":32,"y":0.07},{"x":36,"y":0.35},{"x":40,"y":0.85},{"x":43,"y":1.05},{"x":47,"y":0.9},{"x":51,"y":0.72},{"x":54,"y":0.72},{"x":58,"y":0.9},{"x":62,"y":0.95},{"x":65,"y":0.75},{"x":69,"y":0.3},{"x":73,"y":0},{"x":78,"y":0.03},{"x":82,"y":0.11},{"x":86,"y":0.06},{"x":90,"y":-0.04},{"x":95,"y":0},{"x":100,"y":0.04}],
"ib": [{"x":0,"y":0.05},{"x":5,"y":0.16},{"x":10,"y":0},{"x":18,"y":0.16},{"x":25,"y":-0.08},{"x":32,"y":0},{"x":38,"y":0.45},{"x":43,"y":0.95},{"x":46,"y":0.95},{"x":50,"y":0.6},{"x":53,"y":0.48},{"x":57,"y":0.7},{"x":61,"y":0.98},{"x":64,"y":0.9},{"x":68,"y":0.45},{"x":72,"y":0},{"x":77,"y":-0.08},{"x":83,"y":0.1},{"x":89,"y":-0.06},{"x":95,"y":0},{"x":100,"y":0.02}],
"ic": [{"x":0,"y":0},{"x":30,"y":0},{"x":34,"y":0.1},{"x":38,"y":0.6},{"x":41,"y":1},{"x":44,"y":0.75},{"x":47,"y":0.25},{"x":50,"y":0.06},{"x":53,"y":0.2},{"x":56,"y":0.6},{"x":59,"y":0.8},{"x":62,"y":0.6},{"x":65,"y":0.15},{"x":68,"y":0},{"x":100,"y":0}],
"id": [{"x":0,"y":-0.01},{"x":10,"y":0},{"x":15,"y":0.01},{"x":18,"y":0},{"x":28,"y":0},{"x":33,"y":0.08},{"x":37,"y":0.3},{"x":41,"y":0.39},{"x":44,"y":0.34},{"x":48,"y":0.27},{"x":52,"y":0.33},{"x":57,"y":0.39},{"x":61,"y":0.33},{"x":65,"y":0.2},{"x":72,"y":0.1},{"x":80,"y":0.05},{"x":90,"y":0.02},{"x":100,"y":0.01}],
"ie": [{"x":0,"y":0},{"x":30,"y":0},{"x":34,"y":0.05},{"x":38,"y":0.3},{"x":41.6,"y":0.39},{"x":45,"y":0.3},{"x":48,"y":0.2},{"x":51,"y":0.16},{"x":55,"y":0.24},{"x":59,"y":0.36},{"x":62,"y":0.37},{"x":66,"y":0.3},{"x":70,"y":0.2},{"x":78,"y":0.085},{"x":86,"y":0.035},{"x":100,"y":0.005}],
"if": [{"x":0,"y":-0.02},{"x":27,"y":-0.02},{"x":31,"y":0.2},{"x":35,"y":0.7},{"x":38.4,"y":0.9},{"x":42,"y":0.6},{"x":46,"y":0.15},{"x":49,"y":0.05},{"x":52,"y":0.2},{"x":56,"y":0.7},{"x":60,"y":0.9},{"x":63,"y":0.65},{"x":67,"y":0.15},{"x":71,"y":-0.02},{"x":100,"y":-0.02}]
},
"vconcat": [
{"vconcat": [
{
 "width": 766, "height": 84,
 "layer": [
  {"layer": [
    {"data": {"name": "a"}, "mark": {"type": "line", "color": "#ff0000", "strokeWidth": 1, "clip": true},
     "encoding": {
      "x": {"field": "x", "type": "quantitative", "scale": {"domain": [1529, 1558.9], "nice": false, "zero": false}, "axis": {"values": [1530, 1535, 1540, 1545, 1550, 1555], "labels": false, "title": null}},
      "y": {"field": "y", "type": "quantitative", "scale": {"domain": [0, 1], "range": [80.3, 11.3], "nice": false, "zero": false}, "axis": {"values": [0, 0.5, 1], "labelExpr": "datum.value == 0.5 ? '' : format(datum.value, 'd')", "title": null}}}},
    {"data": {"values": [{"x": 1529.12, "y": 0.864, "t": "(a) TDM based PASTA without average"}]},
     "mark": {"type": "text", "align": "left", "baseline": "middle", "color": "#ff0000", "fontSize": 19},
     "encoding": {
      "x": {"field": "x", "type": "quantitative", "axis": {"orient": "top", "values": [1530, 1535, 1540, 1545, 1550, 1555], "labels": false, "title": null}},
      "y": {"field": "y", "type": "quantitative", "axis": {"orient": "right", "values": [0, 0.5, 1], "labels": false, "title": null}},
      "text": {"field": "t"}}},
    {"data": {"values": [{"x": 1552.633, "x2": 1553.063, "y": -0.054, "y2": 1.091}]},
     "mark": {"type": "rect", "fill": "white", "fillOpacity": 0, "stroke": "#22aa44", "strokeWidth": 1.6, "strokeDash": [4, 2.5], "cornerRadius": 3},
     "encoding": {"x": {"field": "x", "type": "quantitative", "axis": null}, "x2": {"field": "x2"}, "y": {"field": "y", "type": "quantitative", "axis": null}, "y2": {"field": "y2"}}},
    {"data": {"values": [{"x": 1553.1, "y": 0.946}, {"x": 1553.92, "y": 1.091}, {"x": 1554.86, "y": 0.932}]},
     "mark": {"type": "line", "color": "#22aa44", "strokeWidth": 2.5, "interpolate": "cardinal"},
     "encoding": {"x": {"field": "x", "type": "quantitative", "axis": null}, "y": {"field": "y", "type": "quantitative", "axis": null}}},
    {"data": {"values": [{"x": 1554.86, "y": 0.932}]},
     "mark": {"type": "point", "shape": "triangle", "angle": 145, "size": 60, "filled": true, "color": "#22aa44", "opacity": 1},
     "encoding": {"x": {"field": "x", "type": "quantitative", "axis": null}, "y": {"field": "y", "type": "quantitative", "axis": null}}},
    {"data": {"values": [
       {"x": 1528.336, "x2": 1535.523, "xm": 1531.93, "t": "ASE with comb1 shape filtering"},
       {"x": 1535.602, "x2": 1542.633, "xm": 1539.12, "t": "ASE with comb2 shape filtering"},
       {"x": 1542.75, "x2": 1546.539, "xm": 1544.64, "t": "CWs by 20 pm"}]},
     "layer": [
       {"mark": {"type": "rect", "fill": "white", "stroke": "#222222", "strokeWidth": 1.2},
        "encoding": {"x": {"field": "x", "type": "quantitative", "axis": null}, "x2": {"field": "x2"}, "y": {"datum": 1.265, "type": "quantitative", "axis": null}, "y2": {"datum": 1.743}}},
       {"mark": {"type": "text", "baseline": "middle", "align": "center", "fontSize": 12.4, "font": "Liberation Sans", "color": "#111111"},
        "encoding": {"x": {"field": "xm", "type": "quantitative", "axis": null}, "y": {"datum": 1.504, "type": "quantitative", "axis": null}, "text": {"field": "t"}}}
     ]}
   ],
   "resolve": {"axis": {"x": "independent", "y": "independent"}}},
  {"layer": [
    {"data": {"values": [{"x": 0, "x2": 100, "y": -0.147, "y2": 1.147}]},
     "mark": {"type": "rect", "fill": "white", "stroke": "#7a7a7a", "strokeWidth": 1},
     "encoding": {
      "x": {"field": "x", "type": "quantitative", "scale": {"domain": [0, 100], "range": [651, 695], "nice": false, "zero": false}, "axis": null}, "x2": {"field": "x2"},
      "y": {"field": "y", "type": "quantitative", "scale": {"domain": [0, 1], "range": [64, 30], "nice": false, "zero": false}, "axis": null}, "y2": {"field": "y2"}}},
    {"data": {"name": "ia"}, "mark": {"type": "line", "color": "#ff0000", "strokeWidth": 1},
     "encoding": {"x": {"field": "x", "type": "quantitative", "axis": null}, "y": {"field": "y", "type": "quantitative", "axis": null}}},
    {"data": {"values": [{"x": 0, "y": 1, "t": "1"}, {"x": 0, "y": 0, "t": "0"}]},
     "mark": {"type": "text", "align": "right", "baseline": "middle", "dx": -3, "fontSize": 14, "color": "#222222"},
     "encoding": {"x": {"field": "x", "type": "quantitative", "axis": null}, "y": {"field": "y", "type": "quantitative", "axis": null}, "text": {"field": "t"}}}
  ]}
 ],
 "resolve": {"scale": {"x": "independent", "y": "independent"}}
},
{
 "width": 766, "height": 84,
 "layer": [
  {"layer": [
    {"data": {"name": "b"}, "mark": {"type": "line", "color": "#ff0000", "strokeWidth": 1, "clip": true},
     "encoding": {
      "x": {"field": "x", "type": "quantitative", "scale": {"domain": [1529, 1558.9], "nice": false, "zero": false}, "axis": {"values": [1530, 1535, 1540, 1545, 1550, 1555], "labels": false, "title": null}},
      "y": {"field": "y", "type": "quantitative", "scale": {"domain": [0, 1], "range": [81.5, 11.5], "nice": false, "zero": false}, "axis": {"values": [0, 0.5, 1], "labelExpr": "datum.value == 0.5 ? '' : format(datum.value, 'd')", "title": "Intensity (a.u.)", "titleY": 18}}}},
    {"data": {"values": [{"x": 1529.12, "y": 0.914, "t": "(b) TDM based PASTA averaged by 8 times"}]},
     "mark": {"type": "text", "align": "left", "baseline": "middle", "color": "#ff0000", "fontSize": 19},
     "encoding": {
      "x": {"field": "x", "type": "quantitative", "axis": {"orient": "top", "values": [1530, 1535, 1540, 1545, 1550, 1555], "labels": false, "title": null}},
      "y": {"field": "y", "type": "quantitative", "axis": {"orient": "right", "values": [0, 0.5, 1], "labels": false, "title": null}},
      "text": {"field": "t"}}},
    {"data": {"values": [{"x": 1552.633, "x2": 1553.063, "y": -0.036, "y2": 1.154}]},
     "mark": {"type": "rect", "fill": "white", "fillOpacity": 0, "stroke": "#22aa44", "strokeWidth": 1.6, "strokeDash": [4, 2.5], "cornerRadius": 3},
     "encoding": {"x": {"field": "x", "type": "quantitative", "axis": null}, "x2": {"field": "x2"}, "y": {"field": "y", "type": "quantitative", "axis": null}, "y2": {"field": "y2"}}},
    {"data": {"values": [{"x": 1553.1, "y": 0.953}, {"x": 1553.92, "y": 1.104}, {"x": 1554.86, "y": 0.94}]},
     "mark": {"type": "line", "color": "#22aa44", "strokeWidth": 2.5, "interpolate": "cardinal"},
     "encoding": {"x": {"field": "x", "type": "quantitative", "axis": null}, "y": {"field": "y", "type": "quantitative", "axis": null}}},
    {"data": {"values": [{"x": 1554.86, "y": 0.94}]},
     "mark": {"type": "point", "shape": "triangle", "angle": 145, "size": 60, "filled": true, "color": "#22aa44", "opacity": 1},
     "encoding": {"x": {"field": "x", "type": "quantitative", "axis": null}, "y": {"field": "y", "type": "quantitative", "axis": null}}}
   ],
   "resolve": {"axis": {"x": "independent", "y": "independent"}}},
  {"layer": [
    {"data": {"values": [{"x": 0, "x2": 100, "y": -0.229, "y2": 1.057}]},
     "mark": {"type": "rect", "fill": "white", "stroke": "#7a7a7a", "strokeWidth": 1},
     "encoding": {
      "x": {"field": "x", "type": "quantitative", "scale": {"domain": [0, 100], "range": [651, 694], "nice": false, "zero": false}, "axis": null}, "x2": {"field": "x2"},
      "y": {"field": "y", "type": "quantitative", "scale": {"domain": [0, 1], "range": [60.5, 25.5], "nice": false, "zero": false}, "axis": null}, "y2": {"field": "y2"}}},
    {"data": {"name": "ib"}, "mark": {"type": "line", "color": "#ff0000", "strokeWidth": 1},
     "encoding": {"x": {"field": "x", "type": "quantitative", "axis": null}, "y": {"field": "y", "type": "quantitative", "axis": null}}},
    {"data": {"values": [{"x": 0, "y": 1, "t": "1"}, {"x": 0, "y": 0, "t": "0"}]},
     "mark": {"type": "text", "align": "right", "baseline": "middle", "dx": -3, "fontSize": 14, "color": "#222222"},
     "encoding": {"x": {"field": "x", "type": "quantitative", "axis": null}, "y": {"field": "y", "type": "quantitative", "axis": null}, "text": {"field": "t"}}}
  ]}
 ],
 "resolve": {"scale": {"x": "independent", "y": "independent"}}
},
{
 "width": 766, "height": 84,
 "layer": [
  {"layer": [
    {"data": {"name": "c"}, "mark": {"type": "line", "color": "#111111", "strokeWidth": 1, "clip": true, "interpolate": "monotone"},
     "encoding": {
      "x": {"field": "x", "type": "quantitative", "scale": {"domain": [1529, 1558.9], "nice": false, "zero": false}, "axis": {"values": [1530, 1535, 1540, 1545, 1550, 1555], "format": "d", "title": "Wavelength (nm)"}},
      "y": {"field": "y", "type": "quantitative", "scale": {"domain": [0, 1], "range": [83, 13], "nice": false, "zero": false}, "axis": {"values": [0, 0.5, 1], "labelExpr": "datum.value == 0.5 ? '' : format(datum.value, 'd')", "title": null}}}},
    {"data": {"values": [{"x": 1529.12, "y": 0.914, "t": "(c) OSA with 10 pm resolution"}]},
     "mark": {"type": "text", "align": "left", "baseline": "middle", "color": "#111111", "fontSize": 19},
     "encoding": {
      "x": {"field": "x", "type": "quantitative", "axis": {"orient": "top", "values": [1530, 1535, 1540, 1545, 1550, 1555], "labels": false, "title": null}},
      "y": {"field": "y", "type": "quantitative", "axis": {"orient": "right", "values": [0, 0.5, 1], "labels": false, "title": null}},
      "text": {"field": "t"}}},
    {"data": {"values": [{"x": 1552.633, "x2": 1553.063, "y": -0.014, "y2": 1.1}]},
     "mark": {"type": "rect", "fill": "white", "fillOpacity": 0, "stroke": "#22aa44", "strokeWidth": 1.6, "strokeDash": [4, 2.5], "cornerRadius": 3},
     "encoding": {"x": {"field": "x", "type": "quantitative", "axis": null}, "x2": {"field": "x2"}, "y": {"field": "y", "type": "quantitative", "axis": null}, "y2": {"field": "y2"}}},
    {"data": {"values": [{"x": 1553.1, "y": 0.947}, {"x": 1553.92, "y": 1.104}, {"x": 1554.86, "y": 0.924}]},
     "mark": {"type": "line", "color": "#22aa44", "strokeWidth": 2.5, "interpolate": "cardinal"},
     "encoding": {"x": {"field": "x", "type": "quantitative", "axis": null}, "y": {"field": "y", "type": "quantitative", "axis": null}}},
    {"data": {"values": [{"x": 1554.86, "y": 0.924}]},
     "mark": {"type": "point", "shape": "triangle", "angle": 145, "size": 60, "filled": true, "color": "#22aa44", "opacity": 1},
     "encoding": {"x": {"field": "x", "type": "quantitative", "axis": null}, "y": {"field": "y", "type": "quantitative", "axis": null}}}
   ],
   "resolve": {"axis": {"x": "independent", "y": "independent"}}},
  {"layer": [
    {"data": {"values": [{"x": 0, "x2": 100, "y": -0.108, "y2": 1.081}]},
     "mark": {"type": "rect", "fill": "white", "stroke": "#7a7a7a", "strokeWidth": 1},
     "encoding": {
      "x": {"field": "x", "type": "quantitative", "scale": {"domain": [0, 100], "range": [652, 694], "nice": false, "zero": false}, "axis": null}, "x2": {"field": "x2"},
      "y": {"field": "y", "type": "quantitative", "scale": {"domain": [0, 1], "range": [67, 30], "nice": false, "zero": false}, "axis": null}, "y2": {"field": "y2"}}},
    {"data": {"name": "ic"}, "mark": {"type": "line", "color": "#111111", "strokeWidth": 1, "interpolate": "monotone"},
     "encoding": {"x": {"field": "x", "type": "quantitative", "axis": null}, "y": {"field": "y", "type": "quantitative", "axis": null}}},
    {"data": {"values": [{"x": 0, "y": 1, "t": "1"}, {"x": 0, "y": 0, "t": "0"}]},
     "mark": {"type": "text", "align": "right", "baseline": "middle", "dx": -3, "fontSize": 14, "color": "#222222"},
     "encoding": {"x": {"field": "x", "type": "quantitative", "axis": null}, "y": {"field": "y", "type": "quantitative", "axis": null}, "text": {"field": "t"}}}
  ]}
 ],
 "resolve": {"scale": {"x": "independent", "y": "independent"}}
}
], "spacing": 2.5, "bounds": "flush"},
{"vconcat": [
{
 "width": 766, "height": 83.5,
 "layer": [
  {"layer": [
    {"data": {"name": "d"}, "mark": {"type": "line", "color": "#ff0000", "strokeWidth": 1, "clip": true},
     "encoding": {
      "x": {"field": "x", "type": "quantitative", "scale": {"domain": [1567.07, 1597.27], "nice": false, "zero": false}, "axis": {"values": [1570, 1575, 1580, 1585, 1590, 1595], "labels": false, "title": null}},
      "y": {"field": "y", "type": "quantitative", "scale": {"domain": [0, 1], "range": [79, 10.5], "nice": false, "zero": false}, "axis": {"values": [0, 0.5, 1], "labelExpr": "datum.value == 0.5 ? '' : format(datum.value, 'd')", "title": null}}}},
    {"data": {"values": [{"x": 1567.35, "y": 0.851, "t": "(d) TDM based FASTA without average"}]},
     "mark": {"type": "text", "align": "left", "baseline": "middle", "color": "#ff0000", "fontSize": 19},
     "encoding": {
      "x": {"field": "x", "type": "quantitative", "axis": {"orient": "top", "values": [1570, 1575, 1580, 1585, 1590, 1595], "labels": false, "title": null}},
      "y": {"field": "y", "type": "quantitative", "axis": {"orient": "right", "values": [0, 0.5, 1], "labels": false, "title": null}},
      "text": {"field": "t"}}},
    {"data": {"values": [{"x": 1581.857, "x2": 1582.251, "y": -0.066, "y2": 0.92}]},
     "mark": {"type": "rect", "fill": "white", "fillOpacity": 0, "stroke": "#22aa44", "strokeWidth": 1.6, "strokeDash": [4, 2.5], "cornerRadius": 3},
     "encoding": {"x": {"field": "x", "type": "quantitative", "axis": null}, "x2": {"field": "x2"}, "y": {"field": "y", "type": "quantitative", "axis": null}, "y2": {"field": "y2"}}},
    {"data": {"values": [{"x": 1582.054, "y": 0.88}, {"x": 1582.736, "y": 1.095}, {"x": 1583.603, "y": 0.924}]},
     "mark": {"type": "line", "color": "#22aa44", "strokeWidth": 2.5, "interpolate": "cardinal"},
     "encoding": {"x": {"field": "x", "type": "quantitative", "axis": null}, "y": {"field": "y", "type": "quantitative", "axis": null}}},
    {"data": {"values": [{"x": 1583.603, "y": 0.924}]},
     "mark": {"type": "point", "shape": "triangle", "angle": 145, "size": 60, "filled": true, "color": "#22aa44", "opacity": 1},
     "encoding": {"x": {"field": "x", "type": "quantitative", "axis": null}, "y": {"field": "y", "type": "quantitative", "axis": null}}},
    {"data": {"values": [
       {"x": 1567.425, "x2": 1579.124, "xm": 1573.27, "t": "ASE with comb1’ shape filtering"},
       {"x": 1579.215, "x2": 1585.236, "xm": 1582.23, "t": "CWs by 20 pm"},
       {"x": 1585.366, "x2": 1597.106, "xm": 1591.24, "t": "ASE with comb2’ shape filtering"}]},
     "layer": [
       {"mark": {"type": "rect", "fill": "white", "stroke": "#222222", "strokeWidth": 1.2},
        "encoding": {"x": {"field": "x", "type": "quantitative", "axis": null}, "x2": {"field": "x2"}, "y": {"datum": 1.285, "type": "quantitative", "axis": null}, "y2": {"datum": 1.752}}},
       {"mark": {"type": "text", "baseline": "middle", "align": "center", "fontSize": 19, "color": "#111111"},
        "encoding": {"x": {"field": "xm", "type": "quantitative", "axis": null}, "y": {"datum": 1.518, "type": "quantitative", "axis": null}, "text": {"field": "t"}}}
     ]}
   ],
   "resolve": {"axis": {"x": "independent", "y": "independent"}}},
  {"layer": [
    {"data": {"values": [{"x": 0, "x2": 100, "y": -0.035, "y2": 0.459}]},
     "mark": {"type": "rect", "fill": "white", "stroke": "#7a7a7a", "strokeWidth": 1},
     "encoding": {
      "x": {"field": "x", "type": "quantitative", "scale": {"domain": [0, 100], "range": [403, 445], "nice": false, "zero": false}, "axis": null}, "x2": {"field": "x2"},
      "y": {"field": "y", "type": "quantitative", "scale": {"domain": [0, 0.4], "range": [58, 24], "nice": false, "zero": false}, "axis": null}, "y2": {"field": "y2"}}},
    {"data": {"name": "id"}, "mark": {"type": "line", "color": "#ff0000", "strokeWidth": 1},
     "encoding": {"x": {"field": "x", "type": "quantitative", "axis": null}, "y": {"field": "y", "type": "quantitative", "axis": null}}},
    {"data": {"values": [{"x": 0, "y": 0.4, "t": "0.4"}, {"x": 0, "y": 0, "t": "0"}]},
     "mark": {"type": "text", "align": "right", "baseline": "middle", "dx": -1, "fontSize": 14, "color": "#222222"},
     "encoding": {"x": {"field": "x", "type": "quantitative", "axis": null}, "y": {"field": "y", "type": "quantitative", "axis": null}, "text": {"field": "t"}}}
  ]}
 ],
 "resolve": {"scale": {"x": "independent", "y": "independent"}}
},
{
 "width": 766, "height": 83.5,
 "layer": [
  {"layer": [
    {"data": {"name": "e"}, "mark": {"type": "line", "color": "#ff0000", "strokeWidth": 1, "clip": true},
     "encoding": {
      "x": {"field": "x", "type": "quantitative", "scale": {"domain": [1567.07, 1597.27], "nice": false, "zero": false}, "axis": {"values": [1570, 1575, 1580, 1585, 1590, 1595], "labels": false, "title": null}},
      "y": {"field": "y", "type": "quantitative", "scale": {"domain": [0, 1], "range": [79.5, 9.9], "nice": false, "zero": false}, "axis": {"values": [0, 0.5, 1], "labelExpr": "datum.value == 0.5 ? '' : format(datum.value, 'd')", "title": "Intensity (a.u.)", "titleY": 33.5}}}},
    {"data": {"values": [{"x": 1567.35, "y": 0.874, "t": "(e) TDM based FASTA averaged by 8 times"}]},
     "mark": {"type": "text", "align": "left", "baseline": "middle", "color": "#ff0000", "fontSize": 19},
     "encoding": {
      "x": {"field": "x", "type": "quantitative", "axis": {"orient": "top", "values": [1570, 1575, 1580, 1585, 1590, 1595], "labels": false, "title": null}},
      "y": {"field": "y", "type": "quantitative", "axis": {"orient": "right", "values": [0, 0.5, 1], "labels": false, "title": null}},
      "text": {"field": "t"}}},
    {"data": {"values": [{"x": 1581.857, "x2": 1582.251, "y": -0.057, "y2": 0.898}]},
     "mark": {"type": "rect", "fill": "white", "fillOpacity": 0, "stroke": "#22aa44", "strokeWidth": 1.6, "strokeDash": [4, 2.5], "cornerRadius": 3},
     "encoding": {"x": {"field": "x", "type": "quantitative", "axis": null}, "x2": {"field": "x2"}, "y": {"field": "y", "type": "quantitative", "axis": null}, "y2": {"field": "y2"}}},
    {"data": {"values": [{"x": 1582.054, "y": 0.898}, {"x": 1582.736, "y": 1.089}, {"x": 1583.603, "y": 0.931}]},
     "mark": {"type": "line", "color": "#22aa44", "strokeWidth": 2.5, "interpolate": "cardinal"},
     "encoding": {"x": {"field": "x", "type": "quantitative", "axis": null}, "y": {"field": "y", "type": "quantitative", "axis": null}}},
    {"data": {"values": [{"x": 1583.603, "y": 0.931}]},
     "mark": {"type": "point", "shape": "triangle", "angle": 145, "size": 60, "filled": true, "color": "#22aa44", "opacity": 1},
     "encoding": {"x": {"field": "x", "type": "quantitative", "axis": null}, "y": {"field": "y", "type": "quantitative", "axis": null}}}
   ],
   "resolve": {"axis": {"x": "independent", "y": "independent"}}},
  {"layer": [
    {"data": {"values": [{"x": 0, "x2": 100, "y": -0.044, "y2": 0.433}]},
     "mark": {"type": "rect", "fill": "white", "stroke": "#7a7a7a", "strokeWidth": 1},
     "encoding": {
      "x": {"field": "x", "type": "quantitative", "scale": {"domain": [0, 100], "range": [403, 444], "nice": false, "zero": false}, "axis": null}, "x2": {"field": "x2"},
      "y": {"field": "y", "type": "quantitative", "scale": {"domain": [0, 0.4], "range": [56, 20], "nice": false, "zero": false}, "axis": null}, "y2": {"field": "y2"}}},
    {"data": {"name": "ie"}, "mark": {"type": "line", "color": "#ff0000", "strokeWidth": 1},
     "encoding": {"x": {"field": "x", "type": "quantitative", "axis": null}, "y": {"field": "y", "type": "quantitative", "axis": null}}},
    {"data": {"values": [{"x": 0, "y": 0.4, "t": "0.4"}, {"x": 0, "y": 0, "t": "0"}]},
     "mark": {"type": "text", "align": "right", "baseline": "middle", "dx": -1, "fontSize": 14, "color": "#222222"},
     "encoding": {"x": {"field": "x", "type": "quantitative", "axis": null}, "y": {"field": "y", "type": "quantitative", "axis": null}, "text": {"field": "t"}}}
  ]}
 ],
 "resolve": {"scale": {"x": "independent", "y": "independent"}}
},
{
 "width": 766, "height": 83.5,
 "layer": [
  {"layer": [
    {"data": {"name": "f"}, "mark": {"type": "line", "color": "#111111", "strokeWidth": 1, "clip": true, "interpolate": "monotone"},
     "encoding": {
      "x": {"field": "x", "type": "quantitative", "scale": {"domain": [1567.07, 1597.27], "nice": false, "zero": false}, "axis": {"values": [1570, 1575, 1580, 1585, 1590, 1595], "format": "d", "title": "Wavelength (nm)"}},
      "y": {"field": "y", "type": "quantitative", "scale": {"domain": [0, 1], "range": [81, 9.6], "nice": false, "zero": false}, "axis": {"values": [0, 0.5, 1], "labelExpr": "datum.value == 0.5 ? '' : format(datum.value, 'd')", "title": null}}}},
    {"data": {"values": [{"x": 1567.35, "y": 0.794, "t": "(f) OSA with 10 pm resolution"}]},
     "mark": {"type": "text", "align": "left", "baseline": "middle", "color": "#111111", "fontSize": 19},
     "encoding": {
      "x": {"field": "x", "type": "quantitative", "axis": {"orient": "top", "values": [1570, 1575, 1580, 1585, 1590, 1595], "labels": false, "title": null}},
      "y": {"field": "y", "type": "quantitative", "axis": {"orient": "right", "values": [0, 0.5, 1], "labels": false, "title": null}},
      "text": {"field": "t"}}},
    {"data": {"values": [{"x": 1581.857, "x2": 1582.251, "y": -0.035, "y2": 0.882}]},
     "mark": {"type": "rect", "fill": "white", "fillOpacity": 0, "stroke": "#22aa44", "strokeWidth": 1.6, "strokeDash": [4, 2.5], "cornerRadius": 3},
     "encoding": {"x": {"field": "x", "type": "quantitative", "axis": null}, "x2": {"field": "x2"}, "y": {"field": "y", "type": "quantitative", "axis": null}, "y2": {"field": "y2"}}},
    {"data": {"values": [{"x": 1582.054, "y": 0.887}, {"x": 1582.736, "y": 1.074}, {"x": 1583.603, "y": 0.934}]},
     "mark": {"type": "line", "color": "#22aa44", "strokeWidth": 2.5, "interpolate": "cardinal"},
     "encoding": {"x": {"field": "x", "type": "quantitative", "axis": null}, "y": {"field": "y", "type": "quantitative", "axis": null}}},
    {"data": {"values": [{"x": 1583.603, "y": 0.934}]},
     "mark": {"type": "point", "shape": "triangle", "angle": 145, "size": 60, "filled": true, "color": "#22aa44", "opacity": 1},
     "encoding": {"x": {"field": "x", "type": "quantitative", "axis": null}, "y": {"field": "y", "type": "quantitative", "axis": null}}}
   ],
   "resolve": {"axis": {"x": "independent", "y": "independent"}}},
  {"layer": [
    {"data": {"values": [{"x": 0, "x2": 100, "y": -0.081, "y2": 1.108}]},
     "mark": {"type": "rect", "fill": "white", "stroke": "#7a7a7a", "strokeWidth": 1},
     "encoding": {
      "x": {"field": "x", "type": "quantitative", "scale": {"domain": [0, 100], "range": [402, 444], "nice": false, "zero": false}, "axis": null}, "x2": {"field": "x2"},
      "y": {"field": "y", "type": "quantitative", "scale": {"domain": [0, 1], "range": [58, 21], "nice": false, "zero": false}, "axis": null}, "y2": {"field": "y2"}}},
    {"data": {"name": "if"}, "mark": {"type": "line", "color": "#111111", "strokeWidth": 1, "interpolate": "monotone"},
     "encoding": {"x": {"field": "x", "type": "quantitative", "axis": null}, "y": {"field": "y", "type": "quantitative", "axis": null}}},
    {"data": {"values": [{"x": 0, "y": 1, "t": "1"}, {"x": 0, "y": 0, "t": "0"}]},
     "mark": {"type": "text", "align": "right", "baseline": "middle", "dx": -2, "fontSize": 14, "color": "#222222"},
     "encoding": {"x": {"field": "x", "type": "quantitative", "axis": null}, "y": {"field": "y", "type": "quantitative", "axis": null}, "text": {"field": "t"}}}
  ]}
 ],
 "resolve": {"scale": {"x": "independent", "y": "independent"}}
}
], "spacing": 2.5, "bounds": "flush"}
]
}
